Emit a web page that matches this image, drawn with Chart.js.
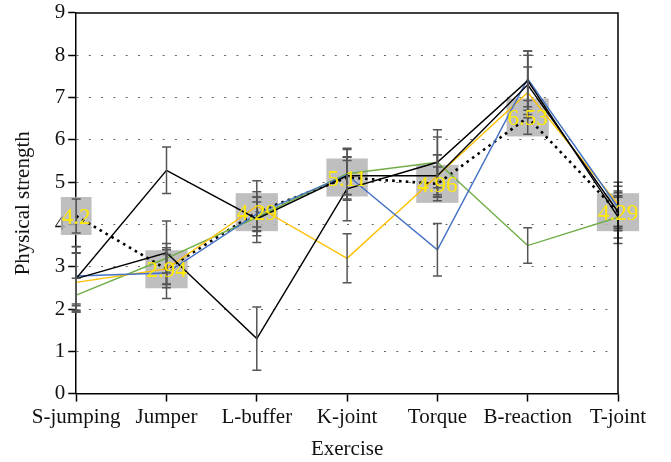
<!DOCTYPE html>
<html>
<head>
<meta charset="utf-8">
<script src="https://cdn.jsdelivr.net/npm/chart.js"></script>
<style>
html, body { margin: 0; padding: 0; background: #fff; }
</style>
</head>
<body>
<canvas id="myChart" width="671" height="462"></canvas>
<script>
const exercises = ['S-jumping', 'Jumper', 'L-buffer', 'K-joint', 'Torque', 'B-reaction', 'T-joint'];
const yTicks = [0, 1, 2, 3, 4, 5, 6, 7, 8, 9];

// five measured series (lines) and the summary series (dotted, labelled)
const blackA = [2.72, 5.28, 4.13, 5.15, 5.15, 7.3, 4.3];
const blackB = [2.72, 3.33, 1.3, 4.84, 5.47, 7.4, 4.18];
const blue = [2.78, 2.85, 4.25, 5.17, 3.4, 7.44, 4.4];
const yellow = [2.63, 2.95, 4.43, 3.2, 5.15, 7.12, 4.48];
const green = [2.33, 3.2, 4.17, 5.2, 5.47, 3.5, 4.17];
const summary = [4.2, 2.94, 4.29, 5.11, 4.96, 6.53, 4.29];

// error bar half-widths
const blackAErr = [0.6, 0.55, 0.4, 0.45, 0.5, 0.7, 0.45];
const blackBErr = [0.75, 0.75, 0.75, 0.75, 0.77, 0.7, 0.5];
const blueErr = [0.7, 0.6, 0.4, 0.6, 0.62, 0.66, 0.5];
const yellowErr = [0.7, 0.45, 0.6, 0.58, 0.5, 0.6, 0.52];
const greenErr = [0.4, 0.35, 0.6, 0.6, 0.6, 0.42, 0.62];
const summaryErr = [0.4, 0.35, 0.35, 0.4, 0.4, 0.4, 0.35];

const serif = '"Liberation Serif", "DejaVu Serif", serif';

function line(data, errors, color, extra) {
    return Object.assign({
        data: data,
        errors: errors,
        borderColor: color,
        backgroundColor: color,
        borderWidth: 1.4,
        pointRadius: 0,
        tension: 0,
        fill: false
    }, extra || {});
}

const extrasPlugin = {
    id: 'extras',
    beforeDatasetsDraw(chart) {
        const ctx = chart.ctx;
        const ds = chart.data.datasets.find(d => d.labelled);
        const meta = chart.getDatasetMeta(chart.data.datasets.indexOf(ds));
        ctx.save();
        ctx.font = '23px ' + serif;
        ctx.fillStyle = 'rgba(180,180,180,0.85)';
        ds.data.forEach((v, i) => {
            const p = meta.data[i];
            const w = ctx.measureText(String(v)).width + 2;
            ctx.fillRect(p.x - w / 2, p.y - 19, w, 38);
        });
        ctx.restore();
    },
    afterDatasetsDraw(chart) {
        const ctx = chart.ctx;
        const y = chart.scales.y;
        const area = chart.chartArea;
        ctx.save();
        // error bars
        ctx.strokeStyle = '#555';
        ctx.lineWidth = 1.5;
        chart.data.datasets.forEach((ds, di) => {
            const meta = chart.getDatasetMeta(di);
            ds.errors.forEach((e, i) => {
                const x = meta.data[i].x;
                const top = y.getPixelForValue(ds.data[i] + e);
                const bot = y.getPixelForValue(ds.data[i] - e);
                ctx.beginPath();
                ctx.moveTo(x, top); ctx.lineTo(x, bot);
                ctx.moveTo(x - 4.5, top); ctx.lineTo(x + 4.5, top);
                ctx.moveTo(x - 4.5, bot); ctx.lineTo(x + 4.5, bot);
                ctx.stroke();
            });
        });
        // top and right frame
        ctx.strokeStyle = '#000';
        ctx.lineWidth = 1.5;
        ctx.beginPath();
        ctx.moveTo(area.left, area.top);
        ctx.lineTo(area.right, area.top);
        ctx.lineTo(area.right, area.bottom);
        ctx.stroke();
        // value labels
        const ds = chart.data.datasets.find(d => d.labelled);
        const meta = chart.getDatasetMeta(chart.data.datasets.indexOf(ds));
        ctx.font = '23px ' + serif;
        ctx.fillStyle = '#ffea00';
        ctx.textAlign = 'center';
        ctx.textBaseline = 'middle';
        ds.data.forEach((v, i) => {
            const p = meta.data[i];
            ctx.fillText(String(v), p.x, p.y + 2);
        });
        ctx.restore();
    }
};

const ctx = document.getElementById('myChart').getContext('2d');
new Chart(ctx, {
    type: 'line',
    data: {
        labels: exercises,
        datasets: [
            line(blackA, blackAErr, '#000'),
            line(blackB, blackBErr, '#000'),
            line(blue, blueErr, '#4472c4'),
            line(yellow, yellowErr, '#ffc000'),
            line(green, greenErr, '#70ad47'),
            line(summary, summaryErr, '#000', {
                borderWidth: 2.6,
                borderDash: [2.6, 4.2],
                labelled: true
            })
        ]
    },
    options: {
        responsive: false,
        animation: false,
        layout: { padding: { left: 6.5, right: 53, top: 0, bottom: 0 } },
        plugins: {
            legend: { display: false },
            tooltip: { enabled: false }
        },
        scales: {
            x: {
                offset: false,
                grid: { drawOnChartArea: false, tickLength: 8, tickColor: '#000', tickWidth: 1.5 },
                border: { color: '#000', width: 1.5 },
                ticks: { color: '#111', font: { family: serif, size: 21 }, padding: 3, maxRotation: 0, autoSkip: false },
                title: { display: true, text: 'Exercise', color: '#111', font: { family: serif, size: 21 }, padding: { top: 4, bottom: 0 } }
            },
            y: {
                min: yTicks[0],
                max: yTicks[yTicks.length - 1],
                afterBuildTicks(scale) { scale.ticks = yTicks.map(v => ({ value: v })); },
                grid: {
                    color: c => (c.tick && (c.tick.value === 0 || c.tick.value === 9)) ? 'rgba(0,0,0,0)' : '#666',
                    lineWidth: 1,
                    tickLength: 8,
                    tickColor: '#000',
                    tickWidth: 1.5,
                    tickBorderDash: []
                },
                border: { color: '#000', width: 1.5, dash: [2, 10.3] },
                ticks: { color: '#111', font: { family: serif, size: 21, lineHeight: 0.95 }, padding: 3 },
                title: { display: true, text: 'Physical strength', color: '#111', font: { family: serif, size: 21 }, padding: { top: 4, bottom: 16 } }
            }
        }
    },
    plugins: [extrasPlugin]
});
</script>
</body>
</html>
